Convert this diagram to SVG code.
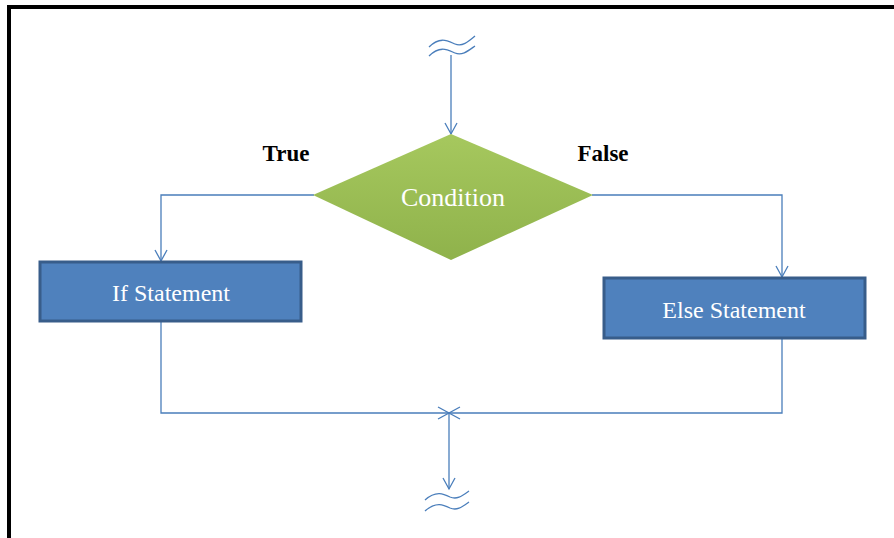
<svg xmlns="http://www.w3.org/2000/svg" width="894" height="538" viewBox="0 0 894 538">
<style>
.c{fill:none;stroke:#4A7EBB;stroke-width:1.3}
.box{fill:#4F81BD;stroke:#385D8A;stroke-width:3}
.t{font-family:"Liberation Serif",serif;font-size:24px;fill:#fff;text-anchor:middle}
.lbl{font-family:"Liberation Serif",serif;font-size:23px;font-weight:bold;fill:#000;text-anchor:middle}
</style>
<defs>
<marker id="a" markerWidth="14" markerHeight="14" refX="12" refY="7" orient="auto" markerUnits="userSpaceOnUse">
<path d="M1,1 L12,7 L1,13" fill="none" stroke="#4A7EBB" stroke-width="1.3"/>
</marker>
<linearGradient id="g" x1="0" y1="0" x2="0" y2="1">
<stop offset="0" stop-color="#A6C85E"/>
<stop offset="1" stop-color="#8FB24B"/>
</linearGradient>
</defs>
<rect width="894" height="538" fill="#fff"/>
<path d="M9,538 V7 H894" fill="none" stroke="#000" stroke-width="4"/>
<g id="connectors">
<path class="c" d="M429,47 C440,36 448,41 455,44 C462,47 468,42 475,36"/>
<path class="c" d="M429,56 C440,45 448,50 455,53 C462,56 468,51 475,46"/>
<path class="c" d="M451,55 V134" marker-end="url(#a)"/>
<path class="c" d="M314,195 H161 V261" marker-end="url(#a)"/>
<path class="c" d="M592,195 H782 V277" marker-end="url(#a)"/>
<path class="c" d="M161,322 V413 H449" marker-end="url(#a)"/>
<path class="c" d="M782,339 V413 H449" marker-end="url(#a)"/>
<path class="c" d="M449,413 V489" marker-end="url(#a)"/>
<path class="c" d="M425,500 C436,490 444,494 450,497 C457,500 462,496 469,491"/>
<path class="c" d="M425,511 C436,501 444,505 450,508 C457,511 462,507 469,502"/>
</g>
<g id="condition">
<polygon points="451,134 593,195 451,260 313,195" fill="url(#g)"/>
<text class="t" x="453" y="206" style="font-size:26px">Condition</text>
</g>
<g id="if">
<rect class="box" x="40" y="262" width="261" height="59"/>
<text class="t" x="171" y="301">If Statement</text>
</g>
<g id="else">
<rect class="box" x="604" y="278" width="261" height="60"/>
<text class="t" x="734" y="318">Else Statement</text>
</g>
<g id="labels">
<text class="lbl" x="286" y="161">True</text>
<text class="lbl" x="603" y="161">False</text>
</g>
</svg>
